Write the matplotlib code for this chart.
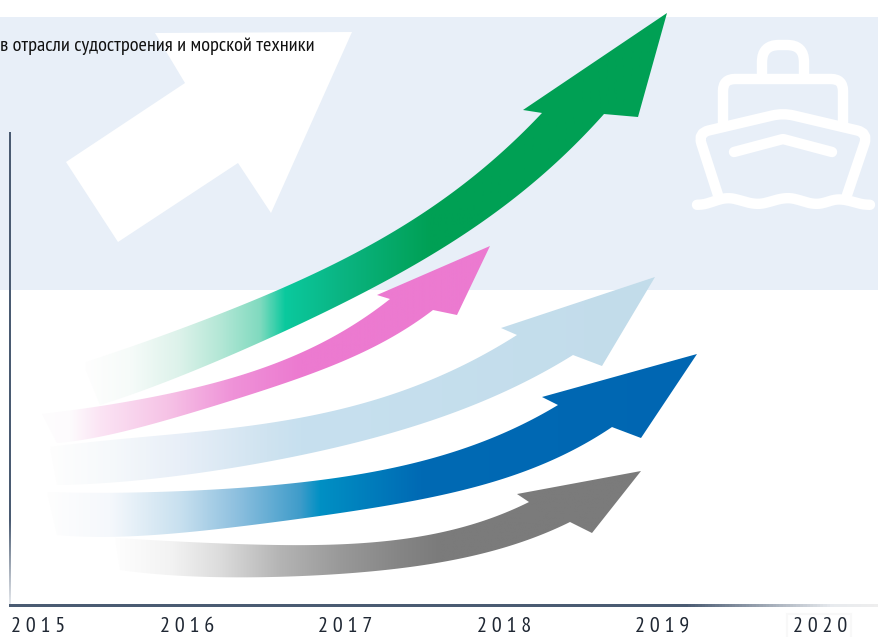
import numpy as np
import matplotlib
matplotlib.use("Agg")
import matplotlib.pyplot as plt
from matplotlib.colors import LinearSegmentedColormap, to_rgb
from matplotlib.patches import Polygon, Rectangle, PathPatch
from matplotlib.path import Path

years = ["2 0 1 5", "2 0 1 6", "2 0 1 7", "2 0 1 8", "2 0 1 9", "2 0 2 0"]
year_x = [38, 187, 345, 504, 662, 820]
title = "в отрасли судостроения и морской техники"
narrow_fonts = ["PT Sans Narrow", "Roboto Condensed", "Open Sans", "DejaVu Sans"]

green_upper = [(83, 363), (133, 345), (207, 320), (267, 295), (333, 263), (440, 203), (490, 163), (520, 133), (542, 113)]
green_lower = [(100, 405), (150, 388), (200, 367), (267, 340), (310, 320), (440, 249), (473, 227), (530, 187), (573, 147), (604, 114)]
green_head = [(523, 110), (667, 13), (638, 117)]
green_colors = [(85, "#fefefe"), (130, "#f6fbf9"), (180, "#dcf2ea"), (220, "#b4e7d6"), (260, "#80dabf"),
                (285, "#0ac99e"), (340, "#0bb583"), (430, "#00a055"), (667, "#00a054")]

pink_upper = [(42, 414), (83, 408), (167, 395), (233, 377), (300, 353), (362, 320), (390, 299)]
pink_lower = [(57, 443), (93, 438), (167, 420), (233, 400), (300, 378), (367, 350), (420, 320), (433, 310)]
pink_head = [(377, 295), (490, 246), (457, 315)]
pink_colors = [(25, "#fefefe"), (70, "#fdfbfd"), (100, "#fbe4f4"), (167, "#f6c3e6"), (233, "#ef92d8"),
               (300, "#ec7ad0"), (490, "#ec7ad0")]

light_upper = [(50, 447), (167, 435), (267, 423), (367, 402), (440, 378), (473, 358), (517, 335)]
light_lower = [(57, 485), (167, 477), (267, 462), (367, 440), (440, 417), (490, 398), (540, 375), (573, 355)]
light_head = [(501, 328), (655, 277), (602, 366)]
light_colors = [(50, "#fefefe"), (110, "#f6f9fb"), (180, "#e8eff8"), (267, "#cfe3f0"), (300, "#c7e0ef"), (655, "#c2dcea")]

blue_upper = [(47, 492), (200, 490), (300, 483), (367, 473), (440, 455), (480, 443), (523, 425), (558, 405)]
blue_lower = [(57, 535), (200, 530), (300, 520), (367, 510), (440, 493), (507, 477), (573, 453), (612, 427)]
blue_head = [(542, 397), (697, 354), (641, 438)]
blue_colors = [(47, "#fefefe"), (110, "#f5f8fc"), (180, "#c8e0ef"), (240, "#8abede"), (300, "#3f9cca"),
               (320, "#0090c4"), (420, "#006ab4"), (697, "#0066b2")]

gray_upper = [(115, 538), (167, 540), (267, 546), (367, 542), (440, 532), (490, 520), (529, 502)]
gray_lower = [(120, 570), (167, 575), (267, 577), (367, 572), (440, 562), (490, 552), (540, 535), (570, 522)]
gray_head = [(517, 494), (641, 471), (592, 533)]
gray_colors = [(115, "#fefefe"), (170, "#f3f3f3"), (220, "#dcdcdc"), (280, "#b4b4b4"), (340, "#999999"),
               (400, "#858585"), (440, "#7b7b7b"), (641, "#7b7b7b")]

white_arrow = [(352, 32), (155, 33), (185, 83), (66, 162), (118, 242), (238, 163), (271, 213)]

# ship icon
ship_handle = [(762, 77), (762, 45), (804, 45), (804, 77)]
ship_cabin = [(723, 125), (723, 79), (843, 79), (843, 125)]
ship_hull = [(718, 195), (698, 133), (783, 113), (868, 133), (847, 195)]
ship_deck = [(734, 152), (783, 139), (832, 152)]
ship_wave = [(697, 205), (709, 204), (723, 197), (738, 199), (753, 205), (768, 203), (783, 197), (798, 199),
             (812, 205), (826, 203), (840, 197), (857, 204), (870, 205)]


def fit_edge(points, deg=4):
    # the edges are read by eye, a low polynomial takes the wobble out
    p = np.array(points, dtype=float)
    weights = np.ones(len(p))
    weights[[0, -1]] = 6
    coef = np.polyfit((p[:, 0] - p[0, 0]) / 300, p[:, 1], deg, w=weights)
    xs = np.linspace(p[0, 0], p[-1, 0], 160)
    return np.column_stack([xs, np.polyval(coef, (xs - p[0, 0]) / 300)])


def gradient_arrow(ax, upper, lower, head, colors, z):
    outline = np.vstack([fit_edge(upper), head, fit_edge(lower)[::-1]])
    x0, x1 = colors[0][0], colors[-1][0]
    stops = [((x - x0) / (x1 - x0), to_rgb(c)) for x, c in colors]
    cmap = LinearSegmentedColormap.from_list("arrow", stops, N=512)
    shape = Polygon(outline, closed=True, fc="none", ec="none", zorder=z)
    ax.add_patch(shape)
    img = ax.imshow(np.linspace(0, 1, 512)[None, :], cmap=cmap, aspect="auto", zorder=z,
                    extent=(x0, x1, outline[:, 1].max() + 1, outline[:, 1].min() - 1))
    img.set_clip_path(shape)


def rounded_line(ax, points, radius):
    # polyline with its inner corners rounded off
    p = np.array(points, dtype=float)
    verts = [p[0]]
    codes = [Path.MOVETO]
    for i in range(1, len(p) - 1):
        a = p[i] + (p[i - 1] - p[i]) / np.linalg.norm(p[i - 1] - p[i]) * radius
        b = p[i] + (p[i + 1] - p[i]) / np.linalg.norm(p[i + 1] - p[i]) * radius
        verts += [a, p[i], b]
        codes += [Path.LINETO, Path.CURVE3, Path.CURVE3]
    verts.append(p[-1])
    codes.append(Path.LINETO)
    ax.add_patch(PathPatch(Path(verts, codes), fc="none", ec="white", lw=7.5, capstyle="round", joinstyle="round", zorder=2))


def wave_line(ax, points):
    p = np.array(points, dtype=float)
    t = np.arange(len(p))
    fine = np.linspace(0, len(p) - 1, 200)
    xs = np.interp(fine, t, p[:, 0])
    ys = np.interp(fine, t, p[:, 1])
    box = np.ones(25) / 25
    ys = np.convolve(np.pad(ys, 12, mode="edge"), box, mode="valid")
    ax.plot(xs, ys, color="white", lw=7.5, solid_capstyle="round", zorder=2)


fig = plt.figure(figsize=(8.79, 6.37), dpi=100)
ax = fig.add_axes([0, 0, 1, 1])

ax.add_patch(Rectangle((0, 17), 880, 273, fc="#e8eff8", ec="none", zorder=0))
ax.add_patch(Polygon(white_arrow, closed=True, fc="white", ec="none", zorder=1))

rounded_line(ax, ship_handle, 17)
rounded_line(ax, ship_cabin, 12)
rounded_line(ax, ship_hull, 11)
rounded_line(ax, ship_deck, 1)
wave_line(ax, ship_wave)

gradient_arrow(ax, green_upper, green_lower, green_head, green_colors, 3)
gradient_arrow(ax, pink_upper, pink_lower, pink_head, pink_colors, 4)
gradient_arrow(ax, light_upper, light_lower, light_head, light_colors, 3)
gradient_arrow(ax, blue_upper, blue_lower, blue_head, blue_colors, 3)
gradient_arrow(ax, gray_upper, gray_lower, gray_head, gray_colors, 3)

# axis lines fade out towards their ends
axis_fade = LinearSegmentedColormap.from_list("axis", [(0, "#4a5b72"), (0.82, "#4a5b72"), (1, "#e8ebef")])
ax.imshow(np.linspace(0, 1, 256)[:, None], cmap=axis_fade, aspect="auto", zorder=5, extent=(9, 11, 606, 132))
base_fade = LinearSegmentedColormap.from_list("base", [(0, "#4a5b72"), (0.78, "#4a5b72"), (0.95, "#e8ebef"), (1, "#eeeeee")])
ax.imshow(np.linspace(0, 1, 256)[None, :], cmap=base_fade, aspect="auto", zorder=5, extent=(9, 879, 607, 604))

ax.add_patch(Rectangle((787, 614), 64, 30, fc="white", ec="#f8f8f8", lw=1.5, zorder=1))

for label, x in zip(years, year_x):
    ax.text(x, 626, label, ha="center", va="center", fontsize=16, color="#1f2733",
            family=narrow_fonts, zorder=6)

title_text = ax.text(0, 46, title, ha="left", va="center", fontsize=15.5, color="#111111",
                     family=narrow_fonts, zorder=6)

ax.set_xlim(0, 879)
ax.set_ylim(637, 0)
ax.axis("off")

# the title has to end at x=313 whatever font was found
width = title_text.get_window_extent(fig.canvas.get_renderer()).width
title_text.set_fontsize(15.5 * 313 / width)

fig.savefig("out.png", dpi=100, facecolor="white")
plt.close(fig)
